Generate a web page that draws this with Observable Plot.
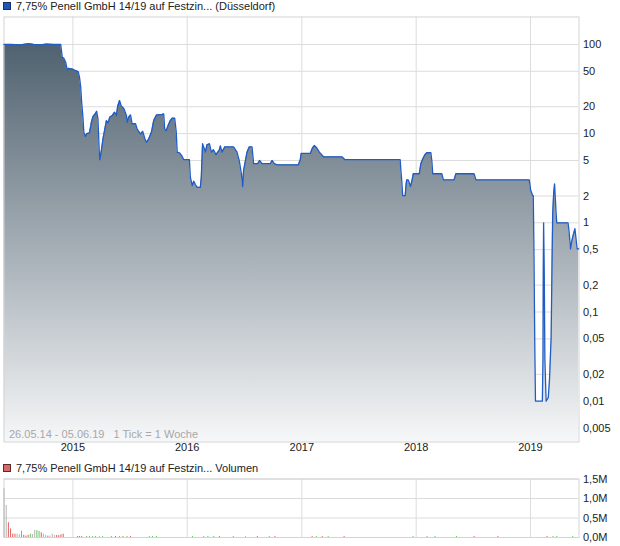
<!DOCTYPE html>
<html><head><meta charset="utf-8">
<script src="https://cdn.jsdelivr.net/npm/d3@7"></script>
<script src="https://cdn.jsdelivr.net/npm/@observablehq/plot@0.6"></script>
<style>
body{margin:0;background:#fff;font-family:"Liberation Sans",Arial,sans-serif;}
#wrap{position:relative;width:620px;height:546px;overflow:hidden;background:#fff;}
.leg{position:absolute;left:3px;font-size:11px;color:#222;white-space:nowrap;line-height:13px;}
.sq{display:inline-block;width:6px;height:6px;border:1px solid #333;margin-right:5px;vertical-align:0px;}
#c1{position:absolute;left:0;top:0;}
#c2{position:absolute;left:0;top:456px;}
</style></head><body>
<div id="wrap">
<div id="c1"></div><div id="c2"></div>
<div class="leg" style="top:0px"><span class="sq" style="background:#2255bb;border-color:#1a2f66"></span>7,75% Penell GmbH 14/19 auf Festzin... (Düsseldorf)</div>
<div class="leg" style="top:462px"><span class="sq" style="background:#d96868;border-color:#5a2a2a"></span>7,75% Penell GmbH 14/19 auf Festzin... Volumen</div>
</div>
<script>
// ---- data ----
const priceDates = ["2014-05-26","2014-06-16","2014-07-18","2014-08-13","2014-08-29","2014-09-20","2014-10-09","2014-10-31","2014-11-23","2014-11-28","2014-12-03","2014-12-09","2014-12-14","2014-12-18","2014-12-31","2015-01-06","2015-01-18","2015-01-22","2015-01-26","2015-01-29","2015-02-02","2015-02-05","2015-02-10","2015-02-14","2015-02-23","2015-03-01","2015-03-06","2015-03-14","2015-03-18","2015-03-22","2015-03-26","2015-03-28","2015-04-02","2015-04-07","2015-04-12","2015-04-18","2015-04-23","2015-04-29","2015-05-07","2015-05-14","2015-05-20","2015-05-24","2015-05-30","2015-06-04","2015-06-13","2015-06-21","2015-06-23","2015-06-28","2015-07-04","2015-07-09","2015-07-20","2015-07-25","2015-08-05","2015-08-12","2015-08-19","2015-08-24","2015-08-31","2015-09-09","2015-09-16","2015-09-25","2015-10-13","2015-10-18","2015-10-21","2015-10-26","2015-11-01","2015-11-08","2015-11-14","2015-11-22","2015-11-27","2015-11-30","2015-12-07","2015-12-14","2015-12-21","2016-01-08","2016-01-11","2016-01-17","2016-01-22","2016-01-27","2016-02-02","2016-02-12","2016-02-15","2016-02-19","2016-02-25","2016-02-28","2016-03-04","2016-03-12","2016-03-18","2016-03-25","2016-04-02","2016-04-13","2016-04-16","2016-04-21","2016-04-30","2016-05-28","2016-06-08","2016-06-15","2016-06-22","2016-06-26","2016-06-29","2016-07-05","2016-07-10","2016-07-17","2016-07-26","2016-07-31","2016-08-13","2016-08-19","2016-08-27","2016-09-22","2016-09-28","2016-10-05","2016-10-14","2016-12-21","2016-12-27","2016-12-30","2017-01-28","2017-02-04","2017-02-10","2017-02-18","2017-02-26","2017-03-11","2017-05-09","2017-05-19","2017-11-11","2017-11-13","2017-11-16","2017-11-19","2017-11-27","2017-11-30","2017-12-02","2017-12-07","2017-12-14","2017-12-19","2017-12-23","2018-01-11","2018-01-16","2018-01-22","2018-01-29","2018-02-04","2018-02-17","2018-02-20","2018-02-23","2018-03-24","2018-03-29","2018-05-02","2018-05-08","2018-07-05","2018-07-11","2018-12-28","2019-01-02","2019-01-08","2019-01-10","2019-01-12","2019-01-15","2019-01-17","2019-02-08","2019-02-10","2019-02-11","2019-02-12","2019-02-14","2019-02-16","2019-02-20","2019-02-27","2019-03-03","2019-03-08","2019-03-11","2019-03-13","2019-03-16","2019-03-19","2019-03-24","2019-03-26","2019-05-01","2019-05-04","2019-05-09","2019-05-12","2019-05-17","2019-05-23","2019-05-26","2019-05-30","2019-06-04"];
const priceValues = [100,100,99,102,100,99,101,100,100,72,70,63,52,54,53,51.5,49.5,43,33,22.5,15.3,10.3,9.3,10,10.2,13.4,15.5,16.8,17.8,14.6,6.5,5.1,6.5,8.7,10.8,14,13.2,15.3,16,17.4,16,20.3,23.5,20.6,19,16,13.4,15.3,16.2,12.9,12.9,11.3,9.9,10.6,8.7,8.0,8.7,10.4,14,16.2,16.4,16.6,11.3,10.8,12.3,14,14.9,14.9,10.4,6.2,6.1,5.7,5.1,5.1,3.25,2.62,2.93,2.69,2.5,2.5,3.25,7.7,6.7,6.2,7.5,7.7,6.2,6.6,5.8,6.6,7.3,6.2,7.1,7.1,6.2,5.0,3.55,2.55,3.86,5.0,6.2,7.1,7.1,4.6,4.6,5.0,4.6,4.6,5.0,4.6,4.47,4.47,5.1,6.0,6.0,6.9,7.35,6.9,6.2,5.5,5.5,5.1,5.1,4.0,2.98,2.02,2.02,2.73,3.03,3.03,2.55,3.0,3.55,3.55,4.6,5.2,5.8,6.1,6.1,5.0,3.55,3.55,3.03,3.03,3.55,3.55,3.03,3.03,2.3,2.02,2.02,0.53,0.037,0.01,0.01,0.03,0.3,1.0,0.3,0.03,0.01,0.011,0.018,0.052,0.38,1.26,2.1,2.73,1.26,1.0,1.0,0.82,0.51,0.6,0.72,0.86,0.69,0.51,0.51];

const volDates = ["2014-05-26","2014-06-02","2014-06-09","2014-06-16","2014-06-23","2014-06-30","2014-07-07","2014-07-14","2014-07-21","2014-07-28","2014-08-04","2014-08-11","2014-08-18","2014-08-25","2014-09-01","2014-09-08","2014-09-15","2014-09-22","2014-09-29","2014-10-06","2014-10-13","2014-10-20","2014-10-27","2014-11-03","2014-11-10","2014-11-17","2014-11-24","2014-12-01","2015-01-16","2015-01-22","2015-01-29","2015-02-14","2015-02-23","2015-03-05","2015-03-14","2015-03-27","2015-04-06","2015-05-04","2015-05-17","2015-05-30","2015-06-10","2015-06-23","2015-07-04","2015-09-02","2015-09-12","2015-09-25","2016-01-18","2016-02-23","2016-03-07","2016-03-26","2016-04-13","2016-05-27","2016-07-05","2016-08-12","2016-09-19","2016-10-07","2017-02-03","2017-02-16","2017-03-07","2017-03-26","2017-05-16","2017-12-22","2018-02-05","2018-03-02","2018-05-10","2018-07-05","2018-09-19","2019-02-23","2019-03-14","2019-03-26","2019-05-16"];
const volValues = [1250000,820000,380000,220000,90000,85000,85000,75000,160000,55000,35000,55000,85000,75000,180000,175000,155000,120000,85000,55000,35000,35000,85000,55000,50000,50000,70000,85000,25000,25000,25000,25000,25000,25000,25000,25000,25000,25000,25000,25000,25000,25000,25000,25000,25000,25000,25000,25000,25000,25000,25000,25000,25000,25000,25000,25000,25000,25000,25000,25000,25000,25000,25000,25000,25000,25000,25000,25000,25000,25000,25000];
const volMoves = ["flat","flat","down","down","down","down","flat","flat","up","down","down","down","up","flat","flat","up","up","down","flat","flat","down","flat","flat","flat","down","down","down","down","down","down","down","up","up","up","up","flat","up","up","down","up","down","up","down","up","up","up","up","up","up","up","down","up","flat","down","up","down","down","up","down","up","down","up","up","up","up","down","down","down","up","up","up"];

const priceTicks = [0.005,0.01,0.02,0.05,0.1,0.2,0.5,1,2,5,10,20,50,100];
const priceTickLabels = ["0,005","0,01","0,02","0,05","0,1","0,2","0,5","1","2","5","10","20","50","100"];
const volTicks = [0,500000,1000000,1500000];
const volTickLabels = ["0,0M","0,5M","1,0M","1,5M"];
const yearTicks = ["2015-01-01","2016-01-01","2017-01-01","2018-01-01","2019-01-01"];
const yearLabels = ["2015","2016","2017","2018","2019"];
const rangeLabel = "26.05.14 - 05.06.19\u00a0\u00a0\u00a01 Tick = 1 Woche";

// ---- build ----
const price = priceDates.map((d,i)=>({date:new Date(d), value:priceValues[i]}));
const vol = volDates.map((d,i)=>({date:new Date(d), value:volValues[i], move:volMoves[i]}));
const years = yearTicks.map(d=>new Date(d));
const yTickData = priceTicks.map((v,i)=>({v, label:priceTickLabels[i]}));
const vTickData = volTicks.map((v,i)=>({v, label:volTickLabels[i]}));
const yearData = years.map((d,i)=>({d, label:yearLabels[i]}));
const xDomain = [new Date("2014-05-26"), new Date("2019-06-05")];
const yMin = 0.00349, yMax = 203;
const font = {fontFamily:'"Liberation Sans", Arial, sans-serif', fontSize:"11px", color:"#222", background:"transparent", overflow:"visible"};

const chart1 = Plot.plot({
  width:620, height:456,
  marginLeft:3.5, marginRight:41.5, marginTop:16.5, marginBottom:14.5,
  style:font,
  x:{type:"utc", domain:xDomain, axis:null},
  y:{type:"log", domain:[yMin,yMax], axis:null},
  marks:[
    Plot.ruleY(priceTicks, {stroke:"#dcdcdc", strokeOpacity:1}),
    Plot.ruleX(years, {stroke:"#dcdcdc", strokeOpacity:1}),
    Plot.areaY(price, {x:"date", y1:() => yMin, y2:"value", fill:"url(#pgrad)"}),
    Plot.frame({stroke:"#d4d4d4"}),
    Plot.lineY(price, {x:"date", y:"value", stroke:"#1f5cc6", strokeWidth:1.3}),
    Plot.text(yTickData, {y:"v", text:"label", frameAnchor:"right", textAnchor:"start", dx:4, fill:"#222"}),
    Plot.text(yearData, {x:"d", text:"label", frameAnchor:"bottom", lineAnchor:"top", dy:1, fill:"#222"}),
    Plot.text([rangeLabel], {frameAnchor:"bottom-left", textAnchor:"start", lineAnchor:"bottom", dx:5, dy:-4, fill:"#a8a8a8", text:d=>d})
  ]
});
document.getElementById("c1").appendChild(chart1);
const svg1 = chart1.tagName.toLowerCase()==="svg" ? chart1 : chart1.querySelector("svg");
const ns = "http://www.w3.org/2000/svg";
const defs = document.createElementNS(ns,"defs");
const grad = document.createElementNS(ns,"linearGradient");
grad.setAttribute("id","pgrad"); grad.setAttribute("gradientUnits","userSpaceOnUse");
grad.setAttribute("x1","0"); grad.setAttribute("y1","16.5"); grad.setAttribute("x2","0"); grad.setAttribute("y2","441.5");
[["0","#445766"],["1","#f6f7f8"]].forEach(([o,c])=>{const s=document.createElementNS(ns,"stop");s.setAttribute("offset",o);s.setAttribute("stop-color",c);grad.appendChild(s);});
defs.appendChild(grad); svg1.insertBefore(defs, svg1.firstChild);

const chart2 = Plot.plot({
  width:620, height:90,
  marginLeft:3.5, marginRight:41.5, marginTop:22.5, marginBottom:9,
  style:font,
  x:{type:"utc", domain:xDomain, axis:null},
  y:{domain:[0,1500000], axis:null},
  color:{domain:["down","up","flat"], range:["#e06060","#5cc85c","#b4b4b4"]},
  marks:[
    Plot.ruleY(volTicks, {stroke:"#dcdcdc"}),
    Plot.ruleX(years, {stroke:"#dcdcdc"}),
    Plot.frame({stroke:"#d4d4d4"}),
    Plot.ruleX(vol, {x:"date", y1:0, y2:"value", stroke:"move", strokeWidth:1}),
    Plot.text(vTickData, {y:"v", text:"label", frameAnchor:"right", textAnchor:"start", dx:4, fill:"#222"})
  ]
});
document.getElementById("c2").appendChild(chart2);
</script>
</body></html>
